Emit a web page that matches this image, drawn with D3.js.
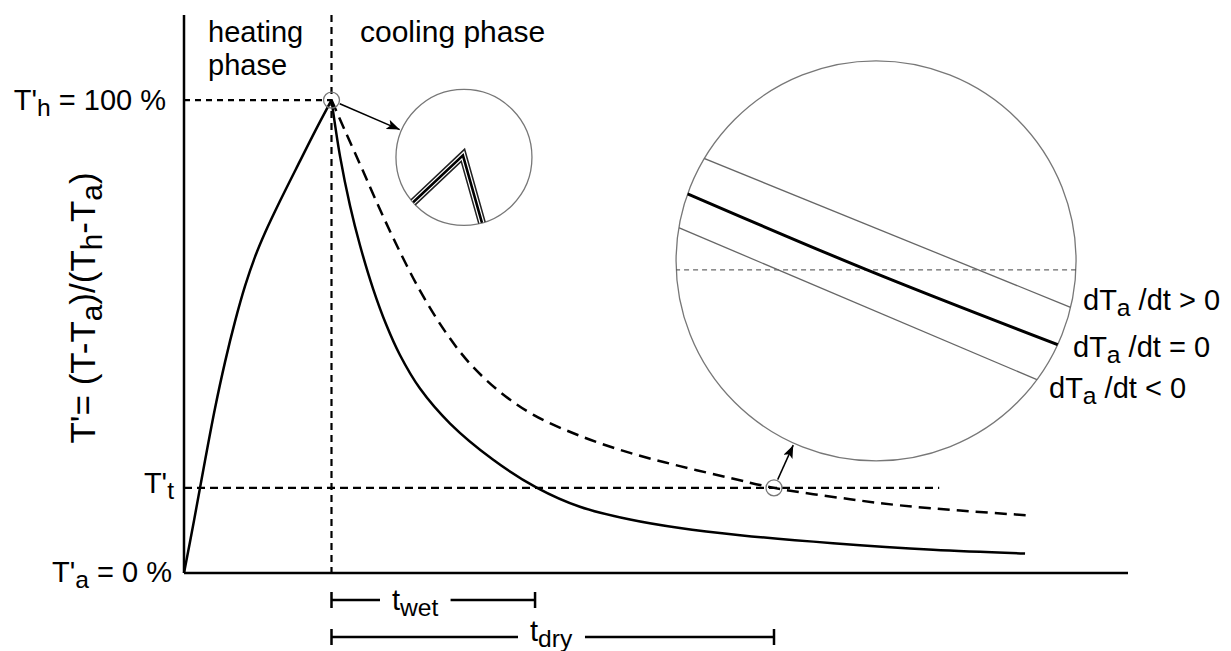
<!DOCTYPE html>
<html>
<head>
<meta charset="utf-8">
<script src="https://cdn.jsdelivr.net/npm/d3@7"></script>
<style>
    body { margin: 0; background: #fff; }
    text { font-family: Arial, "Liberation Sans", sans-serif; fill: #000; }
</style>
</head>
<body>
<svg id="chart" width="1231" height="651"></svg>
<script>

// time in arbitrary units, temperature as T' in %
const heatTime = [0, 0.34, 0.71, 1.05, 1.39, 1.73, 2.07, 2.41, 2.75, 3.25, 3.93, 4.44, 5];
const heatTemp = [0, 11.1, 23.7, 34.8, 44.6, 53.2, 60.7, 66.9, 72.0, 78.6, 87.1, 93.4, 100];

// solid cooling curve (wet)
const wetTime = [5, 5.29, 5.63, 5.97, 6.41, 6.85, 7.32, 8.0, 9.02, 10.47, 11.97, 13.42, 15.12, 16.81, 18.85, 22.0, 25.39, 28.51];
const wetTemp = [100, 88.1, 77.6, 69.2, 60.1, 52.6, 46.1, 39.0, 31.6, 24.0, 18.0, 14.0, 11.3, 9.5, 8.0, 6.3, 4.9, 4.1];

// dashed cooling curve (dry)
const dryTime = [5, 5.46, 5.97, 6.47, 7.15, 8.0, 8.85, 9.69, 10.71, 11.83, 13.42, 15.12, 16.81, 18.51, 20.0, 22.58, 24.27, 26.31, 28.61];
const dryTemp = [100, 93.5, 86.4, 79.3, 70.1, 59.7, 51.1, 44.3, 38.3, 33.5, 29.0, 25.4, 22.6, 20.1, 18.0, 15.6, 14.3, 13.2, 12.2];

// reference levels and times
const tempHeat = 100;
const tempThreshold = 18;
const tempAmbient = 0;
const timeHeatEnd = 5;
const timeWet = 11.9;
const timeDry = 20.0;
const timeThresholdEnd = 25.6;

// insets (centre in data units)
const smallInset = [9.49, 87.9];
const bigInset = [23.46, 66];

// lines shown in the big inset, in units of the inset radius
const insetUpper = [[-1.1, -0.61], [1.1, 0.284]];
const insetMiddle = [[-1.05, -0.382], [-0.045, 0.045], [1.05, 0.473]];
const insetLower = [[-1.05, -0.193], [1.05, 0.698]];
const insetLevel = [[-1.05, 0.045], [1.05, 0.045]];
// zoomed peak in the small inset
const peakZoom = [[-1.0, 0.9], [-0.015, -0.03], [0.36, 1.3]];

const rateLabels = ["> 0", "= 0", "< 0"];


const svg = d3.select("#chart");

const x = d3.scaleLinear().domain([0, 32]).range([184, 1128]);
const y = d3.scaleLinear().domain([0, 118]).range([573, 15]);

// arrow head
svg.append("defs").append("marker")
    .attr("id", "arrow")
    .attr("markerUnits", "userSpaceOnUse")
    .attr("markerWidth", 14)
    .attr("markerHeight", 10)
    .attr("refX", 13)
    .attr("refY", 5)
    .attr("orient", "auto")
    .append("path")
    .attr("d", "M0,0 L13,5 L0,10 L3,5 z")
    .attr("fill", "#000");


// Helper: text with subscripts, parts = [[string, isSub], ...]
function addText(g, px, py, parts, size, anchor) {
    let t = g.append("text")
        .attr("x", px)
        .attr("y", py)
        .attr("font-size", size)
        .attr("text-anchor", anchor || "start");
    parts.forEach((p, i) => {
        let s = t.append("tspan").text(p[0]);
        if (p[1]) {
            s.attr("dy", size * 0.2).attr("font-size", size * 0.85);
        } else if (i > 0 && parts[i - 1][1]) {
            s.attr("dy", -size * 0.2);
        }
    });
    return t;
}


// dashed guide lines
svg.append("line")
    .attr("x1", x(timeHeatEnd)).attr("x2", x(timeHeatEnd))
    .attr("y1", y(118)).attr("y2", y(0))
    .attr("stroke", "#000").attr("stroke-width", 2.2).attr("stroke-dasharray", "7,5");

svg.append("line")
    .attr("x1", x(0)).attr("x2", x(timeHeatEnd))
    .attr("y1", y(tempHeat)).attr("y2", y(tempHeat))
    .attr("stroke", "#000").attr("stroke-width", 2.2).attr("stroke-dasharray", "6,5");

svg.append("line")
    .attr("x1", x(0)).attr("x2", x(timeThresholdEnd))
    .attr("y1", y(tempThreshold)).attr("y2", y(tempThreshold))
    .attr("stroke", "#000").attr("stroke-width", 2.2).attr("stroke-dasharray", "8,5");

// axes
svg.append("line")
    .attr("x1", x(0)).attr("x2", x(0))
    .attr("y1", y(118)).attr("y2", y(0))
    .attr("stroke", "#000").attr("stroke-width", 2.5);
svg.append("line")
    .attr("x1", x(0)).attr("x2", x(32))
    .attr("y1", y(0)).attr("y2", y(0))
    .attr("stroke", "#000").attr("stroke-width", 2.5);

// curves
const line = d3.line()
    .x(d => x(d[0]))
    .y(d => y(d[1]))
    .curve(d3.curveCatmullRom.alpha(0.5));

svg.append("path")
    .attr("d", line(d3.zip(heatTime, heatTemp)))
    .attr("fill", "none").attr("stroke", "#000").attr("stroke-width", 2.5);
svg.append("path")
    .attr("d", line(d3.zip(wetTime, wetTemp)))
    .attr("fill", "none").attr("stroke", "#000").attr("stroke-width", 2.5);
svg.append("path")
    .attr("d", line(d3.zip(dryTime, dryTemp)))
    .attr("fill", "none").attr("stroke", "#000").attr("stroke-width", 2.5)
    .attr("stroke-dasharray", "12,7");


// Helper: inset circle with clipped content and arrow from a point
function addInset(id, centre, r, from) {
    let cx = x(centre[0]), cy = y(centre[1]);
    svg.append("clipPath").attr("id", id)
        .append("circle").attr("cx", cx).attr("cy", cy).attr("r", r);
    svg.append("circle")
        .attr("cx", cx).attr("cy", cy).attr("r", r)
        .attr("fill", "#fff").attr("stroke", "#777").attr("stroke-width", 1.3);

    // small marker at the point of interest
    let fx = x(from[0]), fy = y(from[1]);
    svg.append("circle")
        .attr("cx", fx).attr("cy", fy).attr("r", 8)
        .attr("fill", "none").attr("stroke", "#777").attr("stroke-width", 1.3);

    let dx = cx - fx, dy = cy - fy;
    let len = Math.sqrt(dx * dx + dy * dy);
    svg.append("line")
        .attr("x1", fx + dx / len * 9).attr("y1", fy + dy / len * 9)
        .attr("x2", cx - dx / len * (r + 2)).attr("y2", cy - dy / len * (r + 2))
        .attr("stroke", "#000").attr("stroke-width", 1.5)
        .attr("marker-end", "url(#arrow)");

    return svg.append("g")
        .attr("clip-path", `url(#${id})`)
        .append("g")
        .attr("transform", `translate(${cx},${cy})`);
}

// zoomed peak
const small = addInset("clipSmall", smallInset, 68, [timeHeatEnd, tempHeat]);
const vLine = d3.line().x(d => d[0] * 68).y(d => d[1] * 68);
small.append("path").attr("d", vLine(peakZoom))
    .attr("fill", "none").attr("stroke", "#222").attr("stroke-width", 8);
small.append("path").attr("d", vLine(peakZoom))
    .attr("fill", "none").attr("stroke", "#fff").attr("stroke-width", 5);
small.append("path").attr("d", vLine(peakZoom))
    .attr("fill", "none").attr("stroke", "#000").attr("stroke-width", 2.6);

// zoomed threshold crossing
const big = addInset("clipBig", bigInset, 200, [timeDry, tempThreshold]);
const bLine = d3.line().x(d => d[0] * 200).y(d => d[1] * 200).curve(d3.curveMonotoneX);
big.append("path").attr("d", bLine(insetLevel))
    .attr("fill", "none").attr("stroke", "#444").attr("stroke-width", 1).attr("stroke-dasharray", "5,4");
big.append("path").attr("d", bLine(insetUpper))
    .attr("fill", "none").attr("stroke", "#666").attr("stroke-width", 1.3);
big.append("path").attr("d", bLine(insetLower))
    .attr("fill", "none").attr("stroke", "#666").attr("stroke-width", 1.3);
big.append("path").attr("d", bLine(insetMiddle))
    .attr("fill", "none").attr("stroke", "#000").attr("stroke-width", 3);

// rate labels at the right of the big inset
const rateX = [1083, 1073, 1049];
const rateY = [310, 357, 398];
rateLabels.forEach((lab, i) => {
    addText(svg, rateX[i], rateY[i], [["dT", false], ["a", true], [" /dt " + lab, false]], 29);
});


// phase labels
addText(svg, 208, 42, [["heating", false]], 29);
addText(svg, 208, 75, [["phase", false]], 29);
addText(svg, 360, 42, [["cooling phase", false]], 30);

// level labels
addText(svg, 166, y(tempHeat) + 10, [["T'", false], ["h", true], [" = 100 %", false]], 29, "end");
addText(svg, 174, y(tempThreshold) + 5, [["T'", false], ["t", true]], 29, "end");
addText(svg, 172, y(tempAmbient) + 9, [["T'", false], ["a", true], [" = 0 %", false]], 29, "end");

// y axis title
const yTitle = svg.append("g").attr("transform", "translate(95,308) rotate(-90)");
addText(yTitle, 0, 0, [["T'= (T-T", false], ["a", true], [")/(T", false], ["h", true], ["-T", false], ["a", true], [")", false]], 35, "middle");


// duration bars below the axis
function addSpan(t1, py, parts, labelX, labelDy) {
    let x1 = x(timeHeatEnd), x2 = x(t1);
    svg.append("line").attr("x1", x1).attr("x2", x2).attr("y1", py).attr("y2", py)
        .attr("stroke", "#000").attr("stroke-width", 2.5);
    [x1, x2].forEach(px => {
        svg.append("line").attr("x1", px).attr("x2", px).attr("y1", py - 8).attr("y2", py + 8)
            .attr("stroke", "#000").attr("stroke-width", 2.5);
    });
    let t = addText(svg, labelX, py + labelDy, parts, 29);
    let b = t.node().getBBox();
    svg.insert("rect", () => t.node())
        .attr("x", b.x - 12).attr("y", py - 4).attr("width", b.width + 24).attr("height", 8)
        .attr("fill", "#fff");
}

addSpan(timeWet, 600, [["t", false], ["wet", true]], 392, 10);
addSpan(timeDry, 637, [["t", false], ["dry", true]], 530, 4);

</script>
</body>
</html>
